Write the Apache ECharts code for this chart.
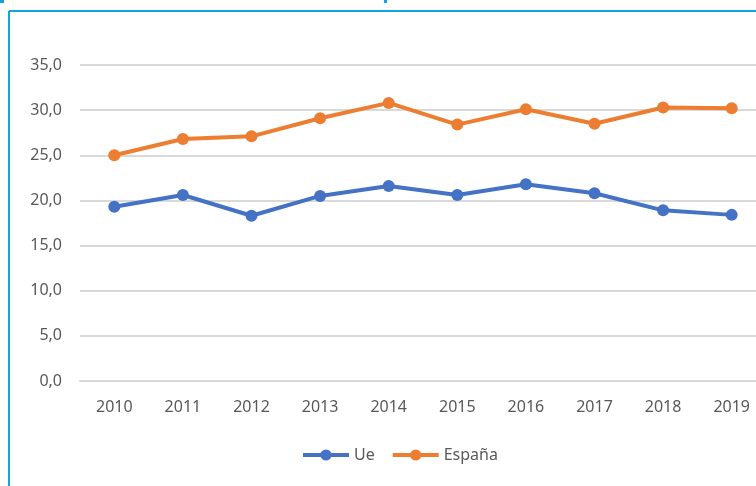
<!DOCTYPE html>
<html>
<head>
<meta charset="utf-8">
<script src="https://cdn.jsdelivr.net/npm/echarts@6/dist/echarts.min.js"></script>
<style>
  html, body { margin: 0; padding: 0; background: #fff; overflow: hidden; }
  #chart { width: 780px; height: 486px; }
</style>
</head>
<body>
<div id="chart"></div>
<script>
// datos
const years = ['2010', '2011', '2012', '2013', '2014', '2015', '2016', '2017', '2018', '2019']
const ueValues = [19.3, 20.6, 18.3, 20.5, 21.6, 20.6, 21.8, 20.8, 18.9, 18.4]
const espanaValues = [25.0, 26.8, 27.1, 29.1, 30.8, 28.4, 30.1, 28.5, 30.3, 30.2]
const seriesNames = ['Ue', 'España']

const fontFam = "'Noto Sans', sans-serif"
const chart = echarts.init(document.getElementById('chart'))

const option = {
  animation: false,
  backgroundColor: '#fff',
  textStyle: { fontFamily: fontFam },
  // marco azul (el grafico original esta recortado a la derecha)
  graphic: [
    { type: 'line', shape: { x1: 9, y1: 11, x2: 780, y2: 11 }, style: { stroke: '#12a3e3', lineWidth: 2 } },
    { type: 'line', shape: { x1: 9, y1: 11, x2: 9, y2: 490 }, style: { stroke: '#12a3e3', lineWidth: 2 } },
    { type: 'rect', shape: { x: 0, y: 0, width: 4, height: 3 }, style: { fill: '#12a3e3' } },
    { type: 'rect', shape: { x: 384, y: 0, width: 3, height: 3 }, style: { fill: '#12a3e3' } }
  ],
  grid: { left: 80, right: 14, top: 65, bottom: 105 },
  legend: {
    top: 442,
    left: 296,
    itemWidth: 46,
    itemHeight: 14,
    itemGap: 16,
    lineStyle: { width: 4 },
    textStyle: { color: '#595959', fontSize: 16, fontFamily: fontFam },
    data: seriesNames
  },
  xAxis: {
    type: 'category',
    data: years,
    axisLine: { show: true, lineStyle: { color: '#d9d9d9', width: 2 } },
    axisTick: { show: false },
    axisLabel: { color: '#595959', fontSize: 16, margin: 18 }
  },
  yAxis: {
    type: 'value',
    min: 0,
    max: 35,
    interval: 5,
    axisLine: { show: false },
    axisTick: { show: false },
    splitLine: { lineStyle: { color: '#d9d9d9', width: 2 } },
    axisLabel: {
      color: '#595959',
      fontSize: 16,
      margin: 18,
      formatter: v => v.toFixed(1).replace('.', ',')
    }
  },
  series: [
    {
      name: seriesNames[0],
      type: 'line',
      data: ueValues,
      color: '#4472c4',
      symbol: 'circle',
      symbolSize: 12,
      lineStyle: { width: 4 }
    },
    {
      name: seriesNames[1],
      type: 'line',
      data: espanaValues,
      color: '#ed7d31',
      symbol: 'circle',
      symbolSize: 12,
      lineStyle: { width: 4 }
    }
  ]
}
option && chart.setOption(option)
</script>
</body>
</html>
